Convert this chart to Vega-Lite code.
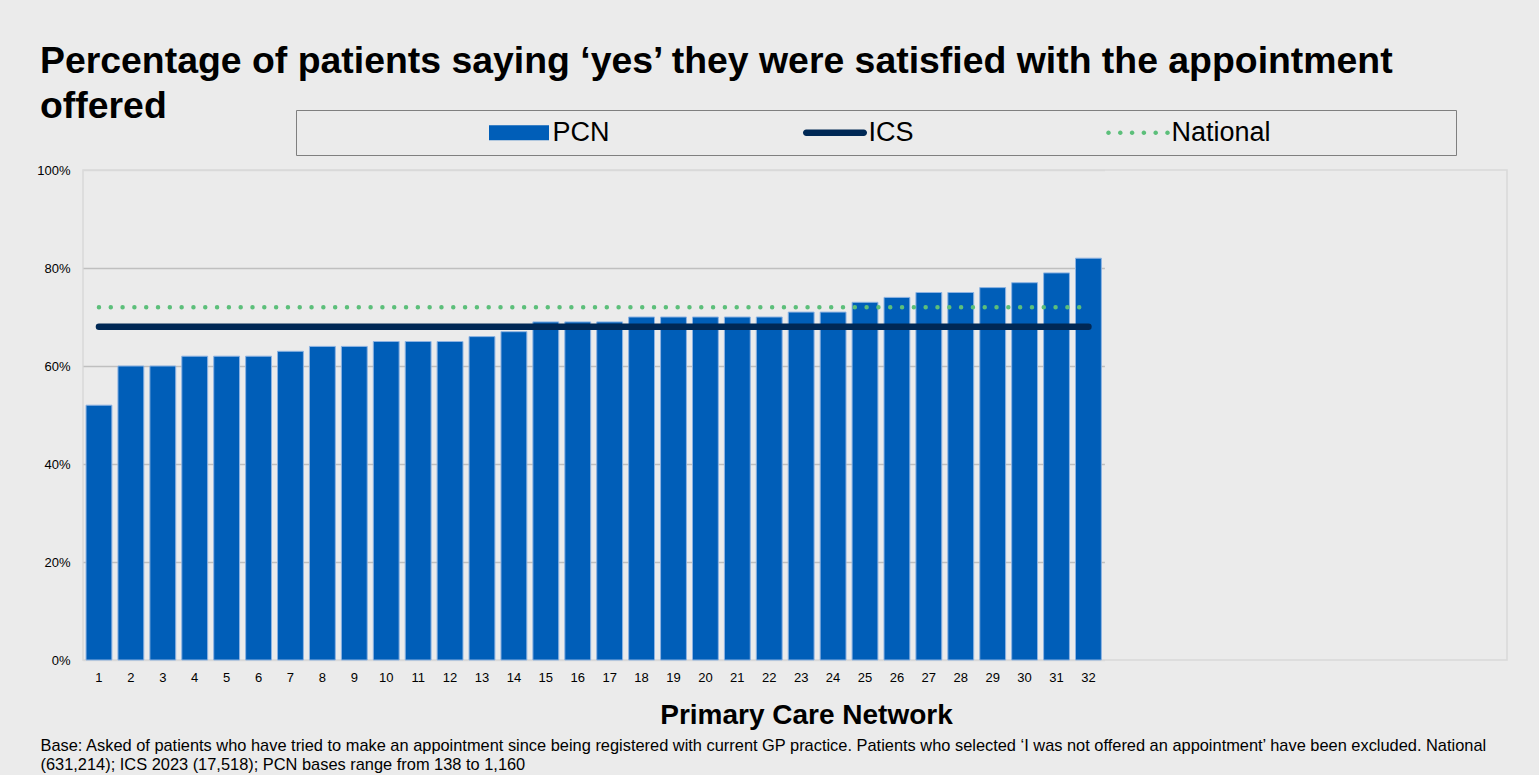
{
  "$schema": "https://vega.github.io/schema/vega-lite/v6.json",
  "autosize": {"type": "none"},
  "padding": {"left": 83, "top": 170, "right": 32, "bottom": 115},
  "width": 1424,
  "height": 490,
  "background": "#EBEBEB",
  "config": {
    "font": "Liberation Sans",
    "view": {"stroke": "#D9D9D9", "strokeWidth": 1.5, "fill": "#EBEBEB"}
  },
  "title": {
    "text": ["Percentage of patients saying ‘yes’ they were satisfied with the appointment", "offered"],
    "anchor": "start",
    "frame": "group",
    "dx": -43,
    "dy": 26,
    "fontSize": 37.4,
    "fontWeight": "bold",
    "color": "#000000",
    "lineHeight": 45,
    "offset": 10
  },
  "data": {
    "values": [
      {"pcn": "1", "pct": 0.52, "ics": 0.68, "national": 0.72},
      {"pcn": "2", "pct": 0.60, "ics": 0.68, "national": 0.72},
      {"pcn": "3", "pct": 0.60, "ics": 0.68, "national": 0.72},
      {"pcn": "4", "pct": 0.62, "ics": 0.68, "national": 0.72},
      {"pcn": "5", "pct": 0.62, "ics": 0.68, "national": 0.72},
      {"pcn": "6", "pct": 0.62, "ics": 0.68, "national": 0.72},
      {"pcn": "7", "pct": 0.63, "ics": 0.68, "national": 0.72},
      {"pcn": "8", "pct": 0.64, "ics": 0.68, "national": 0.72},
      {"pcn": "9", "pct": 0.64, "ics": 0.68, "national": 0.72},
      {"pcn": "10", "pct": 0.65, "ics": 0.68, "national": 0.72},
      {"pcn": "11", "pct": 0.65, "ics": 0.68, "national": 0.72},
      {"pcn": "12", "pct": 0.65, "ics": 0.68, "national": 0.72},
      {"pcn": "13", "pct": 0.66, "ics": 0.68, "national": 0.72},
      {"pcn": "14", "pct": 0.67, "ics": 0.68, "national": 0.72},
      {"pcn": "15", "pct": 0.69, "ics": 0.68, "national": 0.72},
      {"pcn": "16", "pct": 0.69, "ics": 0.68, "national": 0.72},
      {"pcn": "17", "pct": 0.69, "ics": 0.68, "national": 0.72},
      {"pcn": "18", "pct": 0.70, "ics": 0.68, "national": 0.72},
      {"pcn": "19", "pct": 0.70, "ics": 0.68, "national": 0.72},
      {"pcn": "20", "pct": 0.70, "ics": 0.68, "national": 0.72},
      {"pcn": "21", "pct": 0.70, "ics": 0.68, "national": 0.72},
      {"pcn": "22", "pct": 0.70, "ics": 0.68, "national": 0.72},
      {"pcn": "23", "pct": 0.71, "ics": 0.68, "national": 0.72},
      {"pcn": "24", "pct": 0.71, "ics": 0.68, "national": 0.72},
      {"pcn": "25", "pct": 0.73, "ics": 0.68, "national": 0.72},
      {"pcn": "26", "pct": 0.74, "ics": 0.68, "national": 0.72},
      {"pcn": "27", "pct": 0.75, "ics": 0.68, "national": 0.72},
      {"pcn": "28", "pct": 0.75, "ics": 0.68, "national": 0.72},
      {"pcn": "29", "pct": 0.76, "ics": 0.68, "national": 0.72},
      {"pcn": "30", "pct": 0.77, "ics": 0.68, "national": 0.72},
      {"pcn": "31", "pct": 0.79, "ics": 0.68, "national": 0.72},
      {"pcn": "32", "pct": 0.82, "ics": 0.68, "national": 0.72}
    ]
  },
  "encoding": {
    "x": {
      "field": "pcn",
      "type": "ordinal",
      "sort": null,
      "scale": {"range": [0, 1021.4], "paddingInner": 0.19, "paddingOuter": 0.095},
      "axis": {
        "labelAngle": 0,
        "labelFontSize": 13,
        "labelColor": "#000000",
        "labelPadding": 11,
        "ticks": false,
        "tickSize": 0,
        "domain": false,
        "title": "Primary Care Network",
        "titleFontSize": 28,
        "titleFontWeight": "bold",
        "titleColor": "#000000",
        "titleX": 723,
        "titleY": 63,
        "titleAlign": "center",
        "titleBaseline": "alphabetic"
      }
    }
  },
  "layer": [
    {
      "mark": {"type": "bar"},
      "encoding": {
        "y": {
          "field": "pct",
          "type": "quantitative",
          "scale": {"domain": [0, 1], "nice": false},
          "axis": {
            "values": [0, 0.2, 0.4, 0.6, 0.8, 1],
            "format": ".0%",
            "labelFontSize": 13,
            "labelColor": "#000000",
            "labelPadding": 13,
            "ticks": false,
            "tickSize": 0,
            "domain": false,
            "grid": true,
            "gridColor": {"condition": {"test": "datum.value == 0 || datum.value == 1", "value": "#D9D9D9"}, "value": "#BFBFBF"},
            "gridWidth": 1.5,
            "title": ["Base: Asked of patients who have tried to make an appointment since being registered with current GP practice. Patients who selected ‘I was not offered an appointment’ have been excluded. National", "(631,214); ICS 2023 (17,518); PCN bases range from 138 to 1,160"],
            "titleAngle": 0,
            "titleAlign": "left",
            "titleBaseline": "alphabetic",
            "titleX": -43,
            "titleY": 580,
            "titleFontSize": 16.4,
            "titleFontWeight": "normal",
            "titleColor": "#000000",
            "titleLineHeight": 19
          }
        },
        "color": {
          "datum": "PCN",
          "type": "nominal",
          "scale": {"domain": ["PCN", "ICS", "National"], "range": ["#005EB8", "#002855", "#5CBF7A"]},
          "legend": {
            "orient": "none",
            "legendX": 213,
            "legendY": -60,
            "direction": "horizontal",
            "title": "x",
            "titleOrient": "left",
            "titleOpacity": 0,
            "titleFontSize": 10,
            "titlePadding": 178,
            "padding": 9,
            "strokeColor": "#7F7F7F",
            "fillColor": "#EBEBEB",
            "labelFontSize": 27,
            "labelColor": "#000000",
            "labelOffset": 20,
            "labelLimit": 500,
            "labelExpr": "datum.label == 'National' ? datum.label + '\u2003\u2003\u2003\u2003\u2003\u2003\u2002\u200b' : datum.label",
            "columnPadding": 192,
            "symbolSize": 729,
            "symbolOffset": 16.5,
            "symbolType": {"expr": "datum.value == 'PCN' ? 'M-2.222,-0.556H2.222V0.556H-2.222Z' : (datum.value == 'ICS' ? 'M-2.13,-0.241H2.13A0.241,0.241 0 0,1 2.13,0.241H-2.13A0.241,0.241 0 0,1 -2.13,-0.241Z' : 'M-2.355,0a0.17,0.17 0 1,0 0.34,0a0.17,0.17 0 1,0 -0.34,0M-1.481,0a0.17,0.17 0 1,0 0.34,0a0.17,0.17 0 1,0 -0.34,0M-0.607,0a0.17,0.17 0 1,0 0.34,0a0.17,0.17 0 1,0 -0.34,0M0.267,0a0.17,0.17 0 1,0 0.34,0a0.17,0.17 0 1,0 -0.34,0M1.141,0a0.17,0.17 0 1,0 0.34,0a0.17,0.17 0 1,0 -0.34,0M2.015,0a0.17,0.17 0 1,0 0.34,0a0.17,0.17 0 1,0 -0.34,0')"},
            "symbolStrokeColor": "transparent",
            "symbolStrokeWidth": 0,
            "symbolOpacity": 1
          }
        }
      }
    },
    {
      "mark": {"type": "bar", "fill": "transparent", "stroke": "#8DB3E2", "strokeWidth": 1},
      "encoding": {
        "y": {"field": "pct", "type": "quantitative"}
      }
    },
    {
      "mark": {"type": "line", "strokeWidth": 6.5, "strokeCap": "round"},
      "encoding": {
        "y": {"field": "ics", "type": "quantitative"},
        "color": {"datum": "ICS", "type": "nominal"}
      }
    },
    {
      "mark": {"type": "line", "strokeWidth": 4.5, "strokeCap": "round", "strokeDash": [0.01, 11.8]},
      "encoding": {
        "y": {"field": "national", "type": "quantitative"},
        "color": {"datum": "National", "type": "nominal"}
      }
    }
  ]
}
